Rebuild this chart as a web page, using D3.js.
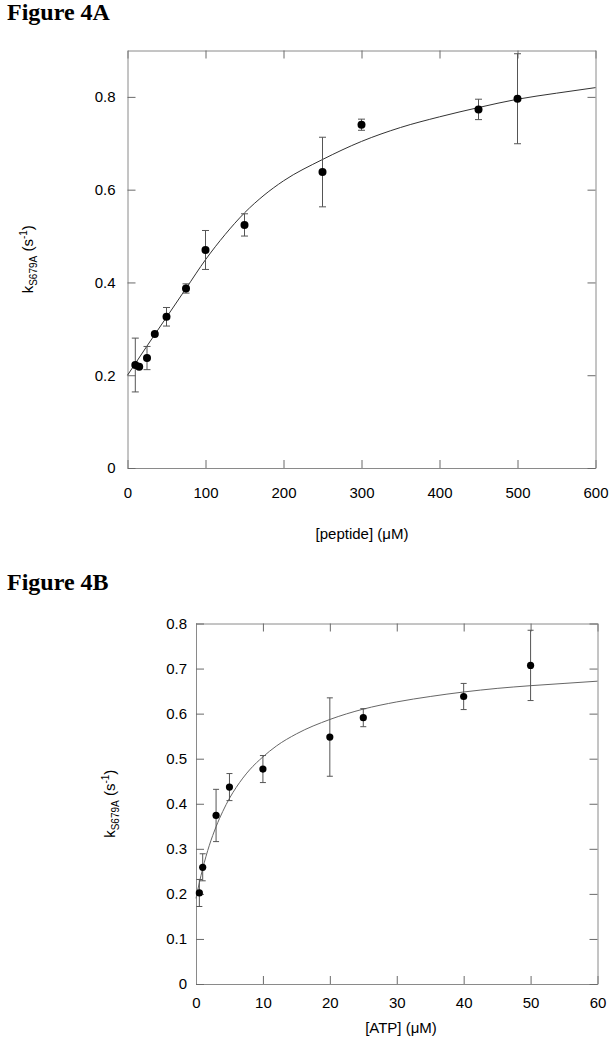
<!DOCTYPE html>
<html>
  <head>
    <meta charset="utf-8">
    <title>Figure 4</title>
    <style>
      body { margin: 0; background: #fff; }
      svg text { font-family: "Liberation Sans", Arial, sans-serif; fill: #000; }
      .fig-title { font-family: "Liberation Serif", "Times New Roman", serif; font-weight: bold; font-size: 24px; }
    </style>
  </head>
  <body>
    <script src="https://d3js.org/d3.v7.min.js"></script>
    <svg id="fig" width="615" height="1049"></svg>
    <script>
      // Figure 4A - rate vs peptide concentration
      const peptideConc = [10, 15, 25, 35, 50, 75, 100, 150, 250, 300, 450, 500]
      const peptideRate = [0.222, 0.218, 0.237, 0.289, 0.326, 0.387, 0.470, 0.524, 0.638, 0.740, 0.773, 0.796]
      const peptideErr  = [0.058, 0, 0.025, 0, 0.020, 0.010, 0.042, 0.024, 0.075, 0.012, 0.022, 0.097]
      // fitted curve
      const peptideFitX = [0, 25, 50, 75, 100, 125, 150, 175, 200, 250, 300, 350, 400, 450, 500, 550, 600]
      const peptideFitY = [0.200, 0.263, 0.325, 0.387, 0.449, 0.503, 0.550, 0.588, 0.619, 0.665, 0.704, 0.734, 0.757, 0.777, 0.795, 0.808, 0.820]
      const peptideXTicks = [0, 100, 200, 300, 400, 500, 600]
      const peptideYTicks = [0, 0.2, 0.4, 0.6, 0.8]

      // Figure 4B - rate vs ATP concentration
      const atpConc = [0.5, 1, 3, 5, 10, 20, 25, 40, 50]
      const atpRate = [0.202, 0.259, 0.374, 0.437, 0.477, 0.548, 0.591, 0.638, 0.707]
      const atpErr  = [0.030, 0.030, 0.058, 0.030, 0.030, 0.087, 0.020, 0.029, 0.078]
      const atpFitX = [0, 0.5, 1, 2, 3, 4, 5, 6, 8, 10, 12, 15, 20, 25, 30, 35, 40, 45, 50, 55, 60]
      const atpFitY = [0.190, 0.225, 0.256, 0.308, 0.349, 0.383, 0.412, 0.436, 0.475, 0.504, 0.528, 0.555, 0.587, 0.610, 0.626, 0.638, 0.648, 0.656, 0.662, 0.667, 0.672]
      const atpXTicks = [0, 10, 20, 30, 40, 50, 60]
      const atpYTicks = [0, 0.1, 0.2, 0.3, 0.4, 0.5, 0.6, 0.7, 0.8]

      const svg = d3.select('#fig')
      const fmt = d => d === 0 ? '0' : d3.format('.1f')(d)

      svg.append('text').attr('class', 'fig-title').attr('x', 7).attr('y', 20).text('Figure 4A')
      svg.append('text').attr('class', 'fig-title').attr('x', 7).attr('y', 590).text('Figure 4B')

      function panel(opt) {
        const x = d3.scaleLinear().domain(opt.xDomain).range([opt.left, opt.right])
        const y = d3.scaleLinear().domain(opt.yDomain).range([opt.bottom, opt.top])
        const g = svg.append('g')

        // axes on all four sides, ticks pointing inward
        const axes = [
          { ax: d3.axisBottom(x).tickValues(opt.xTicks).tickFormat(d => d).tickPadding(opt.xPad), t: `translate(0,${opt.bottom})` },
          { ax: d3.axisTop(x).tickValues(opt.xTicks).tickFormat(''), t: `translate(0,${opt.top})` },
          { ax: d3.axisLeft(y).tickValues(opt.yTicks).tickFormat(fmt).tickPadding(opt.yPad), t: `translate(${opt.left},0)` },
          { ax: d3.axisRight(y).tickValues(opt.yTicks).tickFormat(''), t: `translate(${opt.right},0)` }
        ]
        axes.forEach(a => {
          const ag = g.append('g')
            .attr('transform', a.t)
            .call(a.ax.tickSizeInner(-8).tickSizeOuter(0))
          ag.select('.domain').attr('stroke', '#8a8a8a')
          ag.selectAll('.tick line').attr('stroke', '#6a6a6a')
          ag.selectAll('.tick text').style('font-size', '15px').attr('fill', '#000')
        })

        // fitted curve
        const line = d3.line()
          .x(d => x(d[0]))
          .y(d => y(d[1]))
          .curve(d3.curveMonotoneX)
        g.append('path')
          .datum(d3.zip(opt.fitX, opt.fitY))
          .attr('d', line)
          .attr('fill', 'none')
          .attr('stroke', opt.fitColor)
          .attr('stroke-width', 1)

        // error bars
        const pts = opt.xs.map((v, i) => ({ x: v, y: opt.ys[i], e: opt.errs[i] }))
        const eb = g.selectAll('g.err')
          .data(pts.filter(d => d.e > 0))
          .join('g')
            .attr('class', 'err')
            .attr('stroke', '#555')
            .attr('stroke-width', 1)
        eb.append('line')
          .attr('x1', d => x(d.x)).attr('x2', d => x(d.x))
          .attr('y1', d => y(d.y - d.e)).attr('y2', d => y(d.y + d.e))
        eb.append('line')
          .attr('x1', d => x(d.x) - opt.cap).attr('x2', d => x(d.x) + opt.cap)
          .attr('y1', d => y(d.y + d.e)).attr('y2', d => y(d.y + d.e))
        eb.append('line')
          .attr('x1', d => x(d.x) - opt.cap).attr('x2', d => x(d.x) + opt.cap)
          .attr('y1', d => y(d.y - d.e)).attr('y2', d => y(d.y - d.e))

        // points
        g.selectAll('circle')
          .data(pts)
          .join('circle')
            .attr('cx', d => x(d.x))
            .attr('cy', d => y(d.y))
            .attr('r', opt.r)
            .attr('fill', '#000')

        // axis titles
        g.append('text')
          .attr('x', opt.xLabelX)
          .attr('y', opt.xLabelY)
          .attr('text-anchor', 'middle')
          .style('font-size', '15px')
          .text(opt.xLabel)

        const yl = g.append('text')
          .attr('transform', `translate(${opt.yLabelX},${(opt.top + opt.bottom) / 2}) rotate(-90)`)
          .attr('text-anchor', 'middle')
          .style('font-size', '15px')
        yl.append('tspan').text('k')
        yl.append('tspan').attr('dy', 4).style('font-size', '10px').text('S679A')
        yl.append('tspan').attr('dy', -4).text(' (s')
        yl.append('tspan').attr('dy', -6).style('font-size', '10px').text('-1')
        yl.append('tspan').attr('dy', 6).text(')')
      }

      panel({
        xs: peptideConc, ys: peptideRate, errs: peptideErr,
        fitX: peptideFitX, fitY: peptideFitY, fitColor: '#333',
        xDomain: [0, 600], yDomain: [0, 0.9],
        xTicks: peptideXTicks, yTicks: peptideYTicks,
        left: 127.5, right: 595.5, top: 50.5, bottom: 468,
        xPad: 19, yPad: 12, r: 4, cap: 3.5,
        xLabel: '[peptide] (\u03bcM)', xLabelX: 362, xLabelY: 539,
        yLabelX: 33
      })

      panel({
        xs: atpConc, ys: atpRate, errs: atpErr,
        fitX: atpFitX, fitY: atpFitY, fitColor: '#666',
        xDomain: [0, 60], yDomain: [0, 0.8],
        xTicks: atpXTicks, yTicks: atpYTicks,
        left: 196, right: 597.5, top: 623.5, bottom: 984,
        xPad: 13, yPad: 9, r: 3.6, cap: 3,
        xLabel: '[ATP] (\u03bcM)', xLabelX: 401, xLabelY: 1033,
        yLabelX: 115
      })
    </script>
  </body>
</html>
